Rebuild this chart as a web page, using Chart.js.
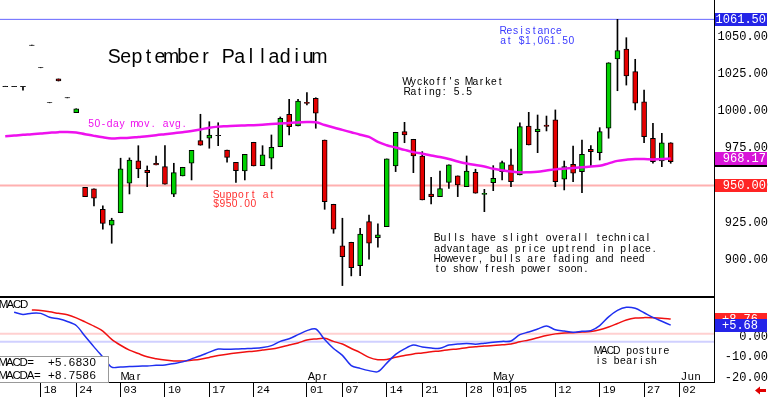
<!DOCTYPE html>
<html>
<head>
<meta charset="utf-8">
<title>September Palladium</title>
<script src="https://cdn.jsdelivr.net/npm/chart.js@4.4.1/dist/chart.umd.min.js"></script>
<style>
  html, body { margin: 0; padding: 0; background: #fff; }
  #wrap { position: relative; width: 768px; height: 397px; overflow: hidden; }
  canvas { position: absolute; left: 0; }
  #priceChart { top: 0; }
  #macdChart { top: 296px; }
</style>
</head>
<body>
<div id="wrap">
  <canvas id="priceChart" width="768" height="296"></canvas>
  <canvas id="macdChart" width="768" height="101"></canvas>
</div>
<script>
// ============================================================================
// Data (x = position in tradingDays)
// ============================================================================

const tradingDays = [
  '02-11', '02-12', '02-13', '02-14', '02-18', '02-19', '02-20', '02-21', '02-24', '02-25',
  '02-26', '02-27', '02-28', '03-03', '03-04', '03-05', '03-06', '03-07', '03-10', '03-11',
  '03-12', '03-13', '03-14', '03-17', '03-18', '03-19', '03-20', '03-21', '03-24', '03-25',
  '03-26', '03-27', '03-28', '03-31', '04-01', '04-02', '04-03', '04-04', '04-07', '04-08',
  '04-09', '04-10', '04-11', '04-14', '04-15', '04-16', '04-17', '04-21', '04-22', '04-23',
  '04-24', '04-25', '04-28', '04-29', '04-30', '05-01', '05-02', '05-05', '05-06', '05-07',
  '05-08', '05-09', '05-12', '05-13', '05-14', '05-15', '05-16', '05-19', '05-20', '05-21',
  '05-22', '05-23', '05-27', '05-28', '05-29', '05-30',
];

const openPrices = [
  1016.4, 1016.4, 1016.4, 1044.0, 1029.0, 1005.5, 1021.5, 1008.8, 998.9, 948.8,
  947.7, 934.0, 923.3, 931.7, 951.5, 966.6, 960.2, 964.8, 962.6, 944.1,
  956.4, 964.9, 980.1, 981.7, 983.4, 973.8, 965.6, 959.7, 979.0, 963.3,
  968.3, 976.0, 997.8, 989.9, 1005.8, 1008.5, 980.5, 937.4, 909.4, 911.9,
  896.2, 925.7, 915.0, 922.4, 963.1, 986.1, 981.0, 969.8, 944.3, 942.5,
  952.1, 956.4, 949.2, 958.9, 944.0, 951.9, 959.3, 963.8, 957.0, 989.9,
  986.1, 990.5, 994.0, 954.2, 964.2, 959.3, 974.3, 972.0, 988.4, 1034.9,
  1041.6, 1026.4, 1006.2, 981.7, 966.4, 978.7,
];
const highPrices = [
  1016.6, 1016.6, 1016.6, 1044.2, 1029.2, 1005.7, 1021.5, 1009.0, 1001.5, 948.8,
  947.7, 936.4, 928.0, 968.3, 968.5, 976.7, 963.1, 969.8, 976.7, 964.9,
  962.2, 973.6, 997.8, 992.8, 992.1, 973.8, 965.6, 970.9, 979.0, 976.7,
  983.9, 996.0, 1007.8, 1007.8, 1012.3, 1008.9, 980.5, 937.4, 928.0, 911.9,
  921.3, 930.2, 924.2, 967.8, 985.7, 992.4, 981.0, 972.7, 955.5, 959.7,
  963.8, 956.4, 969.8, 960.9, 947.4, 963.3, 966.4, 974.5, 992.1, 999.1,
  997.3, 996.6, 1000.7, 966.4, 976.5, 980.5, 976.7, 988.8, 1032.4, 1061.5,
  1049.2, 1034.7, 1014.1, 991.7, 985.0, 978.7,
];
const lowPrices = [
  1016.4, 1016.4, 1014.0, 1044.0, 1029.0, 1005.5, 1020.1, 1008.8, 998.9, 942.5,
  936.2, 920.6, 911.2, 931.7, 944.3, 955.2, 949.2, 963.8, 950.8, 942.5,
  956.4, 953.7, 977.0, 975.0, 976.7, 965.6, 952.1, 953.7, 963.1, 963.3,
  961.1, 976.0, 983.9, 989.9, 1004.0, 988.4, 934.0, 917.9, 882.8, 889.3,
  889.5, 900.5, 908.5, 922.4, 959.3, 978.7, 958.6, 940.3, 937.6, 942.5,
  948.1, 942.5, 949.2, 944.8, 932.4, 946.5, 953.7, 949.2, 957.0, 977.2,
  972.0, 986.6, 949.2, 947.0, 952.5, 945.2, 962.6, 967.1, 981.7, 1013.6,
  1017.4, 1000.7, 978.7, 964.9, 962.6, 964.9,
];
const closePrices = [
  1016.6, 1016.6, 1016.6, 1044.2, 1029.2, 1005.7, 1020.1, 1009.0, 1001.5, 942.5,
  941.4, 924.6, 926.8, 961.1, 967.1, 961.1, 958.6, 963.8, 950.8, 958.6,
  962.2, 973.6, 977.0, 983.9, 983.6, 968.9, 959.9, 970.9, 963.1, 970.5,
  975.6, 995.1, 989.5, 1006.7, 1005.0, 998.5, 939.1, 920.6, 902.2, 894.8,
  917.3, 911.2, 916.8, 967.8, 985.7, 983.9, 969.8, 940.3, 942.5, 947.9,
  963.8, 950.3, 959.7, 944.8, 944.8, 954.8, 965.3, 952.6, 989.5, 977.2,
  987.9, 989.6, 952.6, 962.6, 958.2, 970.9, 972.7, 986.1, 1032.4, 1040.5,
  1023.5, 1005.2, 982.7, 966.0, 978.7, 966.0,
];

const movingAvg50 = [
  983.1, 983.5, 984.0, 984.4, 984.9, 985.4, 985.8, 985.9, 985.5, 984.4,
  983.3, 982.3, 981.5, 981.8, 982.1, 982.6, 983.1, 983.7, 984.4, 985.1,
  985.8, 986.6, 987.6, 988.8, 989.5, 989.8, 990.1, 990.3, 990.5, 990.8,
  991.2, 991.6, 992.0, 992.3, 992.6, 992.4, 990.6, 988.9, 987.3, 985.7,
  984.1, 982.6, 979.2, 977.0, 975.5, 973.9, 972.4, 971.3, 970.1, 969.1,
  967.8, 966.1, 964.7, 963.7, 962.7, 961.2, 960.2, 959.4, 958.8, 958.9,
  959.2, 960.0, 960.8, 961.3, 961.7, 962.2, 962.7, 963.2, 964.8, 966.5,
  967.3, 967.8, 967.7, 967.5, 967.7, 968.17,
];

const macdStart = 1;
const macdValues = [
  12.0, 11.0, 11.6, 11.5, 9.6, 8.8, 7.5, 5.5, 0.2, -5.0,
  -10.0, -15.0, -14.9, -14.7, -14.5, -14.4, -14.1, -13.9, -13.2, -12.4,
  -10.9, -9.4, -7.6, -6.1, -6.2, -6.1, -5.9, -5.7, -5.3, -4.4,
  -2.3, -1.0, 1.0, 3.0, 3.8, -1.4, -5.8, -9.2, -14.2, -15.6,
  -16.7, -17.2, -13.0, -8.7, -6.0, -4.1, -5.1, -5.6, -5.7, -4.1,
  -3.6, -3.3, -3.7, -3.2, -2.7, -2.3, -2.1, 1.0, 2.3, 3.8,
  5.3, 3.4, 2.8, 2.2, 2.7, 3.0, 5.5, 9.8, 13.0, 14.5,
  14.0, 11.8, 9.5, 7.6, 5.68,
];
const signalStart = 3;
const signalValues = [
  13.2, 12.9, 12.3, 11.5, 10.8, 9.3, 7.3, 5.2, 2.8, -1.3,
  -4.2, -6.6, -8.3, -9.9, -10.8, -11.5, -11.9, -12.0, -11.6, -11.1,
  -10.2, -9.3, -8.6, -8.0, -7.5, -7.1, -6.6, -6.1, -5.2, -4.1,
  -3.1, -1.6, -1.1, -0.8, -2.3, -3.6, -5.8, -7.8, -10.2, -11.3,
  -11.2, -10.1, -9.3, -8.5, -8.0, -7.4, -7.0, -6.4, -6.0, -5.4,
  -5.0, -4.6, -4.3, -4.0, -3.6, -2.5, -1.6, -0.5, 0.6, 1.4,
  1.8, 2.0, 2.3, 2.6, 3.4, 4.8, 6.5, 8.2, 9.2, 9.4,
  9.3, 9.1, 8.76,
];

const priceTicks = [900, 925, 950, 975, 1000, 1025, 1050];
const macdTicks = [-20, -10, 0];
const dayTickPositions = [4, 8, 13, 18, 23, 28, 34, 38, 43, 47, 52, 55, 57, 62, 67, 72, 76];
const dayTickLabels = ['18', '24', '03', '10', '17', '24', '01', '07', '14', '21', '28', '01', '05', '12', '19', '27', '02'];
const monthPositions = [13, 34, 55, 76];
const monthLabels = ['Mar', 'Apr', 'May', 'Jun'];

const SUPPORT = 950.0;
const RESISTANCE = 1061.5;
const LAST_MA = 968.17;
const LAST_MACD = 5.683;
const LAST_MACDA = 8.7586;
const MACD_UPPER_REF = 1.5;
const MACD_LOWER_REF = -2.5;

// ============================================================================
// Styling
// ============================================================================

const MONO = '"Liberation Mono", "DejaVu Sans Mono", monospace';
const SANS = '"Liberation Sans", Arial, sans-serif';
const colors = {
  up: '#00d000',
  down: '#e60000',
  flat: '#222',
  ma: '#ee11ee',
  maBox: '#d814d8',
  support: '#ffb0b0',
  supportText: '#ff3030',
  supportBox: '#ff2424',
  resistance: '#6666ff',
  resistanceText: '#3a3aff',
  resistanceBox: '#2424e8',
  macd: '#1f2ff0',
  signal: '#f01010',
  macdUpperRef: '#ffd0d0',
  macdLowerRef: '#d0d0ff',
};

const X_MIN = -0.59;
const X_MAX = 79.88;

// ============================================================================
// Helpers
// ============================================================================

// The source chart sets proportional glyphs in fixed-width cells; do the same
function drawCellText(ctx, lines, x, y, opts) {
  const { advance, size, lineHeight = 0, color = '#000' } = opts;
  ctx.save();
  ctx.font = `${size}px ${SANS}`;
  ctx.fillStyle = color;
  ctx.textAlign = 'center';
  ctx.textBaseline = 'middle';
  lines.forEach((line, row) => {
    [...line].forEach((ch, col) => {
      if (ch !== ' ') ctx.fillText(ch, x + col * advance + advance / 2, y + row * lineHeight);
    });
  });
  ctx.restore();
}

function drawValueBox(ctx, yPix, text, fill, textRight) {
  ctx.save();
  ctx.fillStyle = fill;
  ctx.fillRect(715, Math.round(yPix) - 6, 52, 13);
  ctx.fillStyle = '#fff';
  ctx.font = `12px ${MONO}`;
  ctx.textAlign = 'right';
  ctx.textBaseline = 'middle';
  ctx.fillText(text, textRight, Math.round(yPix) + 0.5);
  ctx.restore();
}

function flatLine(value) {
  return [{ x: X_MIN, y: value }, { x: X_MAX, y: value }];
}

// Chart.js pads an axis by half a label at each end; the panels here run edge to edge
function noScalePadding(scale) {
  scale.paddingTop = 0;
  scale.paddingBottom = 0;
  scale.paddingLeft = 0;
  scale.paddingRight = 0;
}

// ============================================================================
// Price panel
// ============================================================================

const bodies = openPrices.map((o, i) => ({ x: i, y: [o, closePrices[i]] }));
const wicks = lowPrices.map((l, i) => ({ x: i, y: [l, highPrices[i]] }));
const bodyColors = openPrices.map((o, i) => {
  const c = closePrices[i];
  if (Math.abs(c - o) < 0.5) return colors.flat;
  return c >= o ? colors.up : colors.down;
});
const maPoints = movingAvg50.map((v, i) => ({ x: i, y: v }));

const priceNotes = {
  id: 'priceNotes',
  afterDraw(chart) {
    const { ctx, scales: { y } } = chart;
    const note = { advance: 6.2, size: 10.3, lineHeight: 10.3 };

    drawCellText(ctx, ['September Palladium'], 108.5, 58, { advance: 11.4, size: 19.5 });
    drawCellText(ctx, ["Wyckoff's Market", 'Rating: 5.5'], 404, 82, { ...note, lineHeight: 10.5 });
    drawCellText(ctx, ['Resistance', 'at $1,061.50'], 500, 31, { ...note, lineHeight: 10, color: colors.resistanceText });
    drawCellText(ctx, ['50-day mov. avg.'], 88, 124.5, { ...note, color: colors.ma });
    drawCellText(ctx, ['Support at', '$950.00'], 213, 195, { ...note, lineHeight: 9.5, color: colors.supportText });
    drawCellText(ctx, [
      'Bulls have slight overall technical',
      'advantage as price uptrend in place.',
      'However, bulls are fading and need',
      'to show fresh power soon.',
    ], 434, 238.5, note);

    drawValueBox(ctx, y.getPixelForValue(RESISTANCE), RESISTANCE.toFixed(2), colors.resistanceBox, 766);
    const maY = y.getPixelForValue(LAST_MA);
    drawValueBox(ctx, maY, LAST_MA.toFixed(2), colors.maBox, 766);
    ctx.fillStyle = '#000';
    ctx.fillRect(715, Math.round(maY) + 7, 52, 2);
    drawValueBox(ctx, y.getPixelForValue(SUPPORT), SUPPORT.toFixed(2), colors.supportBox, 766);
  },
};

new Chart(document.getElementById('priceChart'), {
  type: 'bar',
  data: {
    datasets: [
      {
        type: 'line',
        label: '50-day mov. avg.',
        data: maPoints,
        borderColor: colors.ma,
        borderWidth: 2.5,
        pointRadius: 0,
        tension: 0.4,
        order: 0,
      },
      {
        type: 'bar',
        label: 'body',
        data: bodies,
        backgroundColor: bodyColors,
        borderColor: '#000',
        borderWidth: 1,
        borderSkipped: false,
        barThickness: 5,
        grouped: false,
        order: 1,
      },
      {
        type: 'bar',
        label: 'wick',
        data: wicks,
        backgroundColor: '#000',
        borderWidth: 0,
        barThickness: 1,
        grouped: false,
        order: 2,
      },
      {
        type: 'line',
        label: 'support',
        data: flatLine(SUPPORT),
        borderColor: colors.support,
        borderWidth: 2,
        pointRadius: 0,
        order: 3,
      },
      {
        type: 'line',
        label: 'resistance',
        data: flatLine(RESISTANCE),
        borderColor: colors.resistance,
        borderWidth: 1,
        pointRadius: 0,
        order: 3,
      },
    ],
  },
  options: {
    responsive: false,
    animation: false,
    events: [],
    layout: { padding: 0 },
    plugins: { legend: { display: false }, tooltip: { enabled: false } },
    scales: {
      x: { type: 'linear', min: X_MIN, max: X_MAX, offset: false, display: false },
      y: {
        position: 'right',
        min: 875.8,
        max: 1074.5,
        afterFit(scale) { scale.width = 54; noScalePadding(scale); },
        afterBuildTicks(scale) { scale.ticks = priceTicks.map((v) => ({ value: v })); },
        grid: { display: false, drawTicks: false },
        border: { display: true, color: '#000', width: 1 },
        ticks: {
          padding: 2,
          crossAlign: 'far',
          color: '#000',
          font: { family: MONO, size: 12 },
          callback: (v) => Number(v).toFixed(2),
        },
      },
    },
  },
  plugins: [priceNotes],
});

// ============================================================================
// MACD panel
// ============================================================================

const macdPoints = macdValues.map((v, i) => ({ x: i + macdStart, y: v }));
const signalPoints = signalValues.map((v, i) => ({ x: i + signalStart, y: v }));

const macdNotes = {
  id: 'macdNotes',
  afterDraw(chart) {
    const { ctx, scales: { x, y } } = chart;

    // heavy divider between the panels
    ctx.fillStyle = '#000';
    ctx.fillRect(0, 0, 714, 2);

    drawCellText(ctx, ['MACD'], 0, 9, { advance: 6.9, size: 11.5 });

    // current-value readout
    ctx.save();
    ctx.fillStyle = '#fff';
    ctx.fillRect(-1, 61, 110, 25);
    ctx.strokeStyle = '#999';
    ctx.lineWidth = 1;
    ctx.strokeRect(-0.5, 60.5, 109, 26);
    ctx.restore();
    drawCellText(ctx, [
      'MACD=  +' + LAST_MACD.toFixed(4),
      'MACDA= +' + LAST_MACDA.toFixed(4),
    ], -0.5, 66.5, { advance: 6.9, size: 11.5, lineHeight: 13 });

    drawCellText(ctx, ['MACD posture', 'is bearish'], 595, 55, { advance: 6.2, size: 10.3, lineHeight: 9.8 });

    monthPositions.forEach((p, i) => {
      drawCellText(ctx, [monthLabels[i]], x.getPixelForValue(p) + 1, 81, { advance: 6.8, size: 11 });
    });

    drawValueBox(ctx, y.getPixelForValue(LAST_MACDA), '+' + LAST_MACDA.toFixed(2), colors.supportBox, 758);
    drawValueBox(ctx, y.getPixelForValue(LAST_MACD), '+' + LAST_MACD.toFixed(2), colors.resistanceBox, 758);

    // small red arrow in the corner
    ctx.save();
    ctx.fillStyle = '#e00000';
    ctx.beginPath();
    ctx.moveTo(755, 94.5);
    ctx.lineTo(760, 90.5);
    ctx.lineTo(760, 98.5);
    ctx.closePath();
    ctx.fill();
    ctx.fillRect(759, 93, 7, 3);
    ctx.restore();
  },
};

new Chart(document.getElementById('macdChart'), {
  type: 'line',
  data: {
    datasets: [
      {
        label: 'MACD',
        data: macdPoints,
        borderColor: colors.macd,
        borderWidth: 1.5,
        pointRadius: 0,
        tension: 0.3,
        order: 0,
      },
      {
        label: 'MACDA',
        data: signalPoints,
        borderColor: colors.signal,
        borderWidth: 1.5,
        pointRadius: 0,
        tension: 0.3,
        order: 1,
      },
      {
        label: 'upper',
        data: flatLine(MACD_UPPER_REF),
        borderColor: colors.macdUpperRef,
        borderWidth: 2,
        pointRadius: 0,
        order: 2,
      },
      {
        label: 'lower',
        data: flatLine(MACD_LOWER_REF),
        borderColor: colors.macdLowerRef,
        borderWidth: 2,
        pointRadius: 0,
        order: 2,
      },
    ],
  },
  options: {
    responsive: false,
    animation: false,
    events: [],
    layout: { padding: 0 },
    plugins: { legend: { display: false }, tooltip: { enabled: false } },
    scales: {
      x: {
        type: 'linear',
        min: X_MIN,
        max: X_MAX,
        offset: false,
        afterFit(scale) { scale.height = 15; noScalePadding(scale); },
        afterBuildTicks(scale) { scale.ticks = dayTickPositions.map((v) => ({ value: v })); },
        grid: {
          display: true,
          drawOnChartArea: false,
          drawTicks: true,
          tickLength: 15,
          tickColor: '#000',
          offset: false,
        },
        border: { display: true, color: '#000', width: 1 },
        ticks: {
          autoSkip: false,
          maxRotation: 0,
          align: 'start',
          labelOffset: 3,
          padding: -14,
          color: '#000',
          font: { family: MONO, size: 11 },
          callback: (v, i) => dayTickLabels[i],
        },
      },
      y: {
        position: 'right',
        min: -22.3,
        max: 20.05,
        afterFit(scale) { scale.width = 54; noScalePadding(scale); },
        afterBuildTicks(scale) { scale.ticks = macdTicks.map((v) => ({ value: v })); },
        grid: { display: false, drawTicks: false },
        border: { display: true, color: '#000', width: 1 },
        ticks: {
          padding: 1,
          crossAlign: 'far',
          color: '#000',
          font: { family: MONO, size: 12 },
          callback: (v) => Number(v).toFixed(2),
        },
      },
    },
  },
  plugins: [macdNotes],
});
</script>
</body>
</html>
